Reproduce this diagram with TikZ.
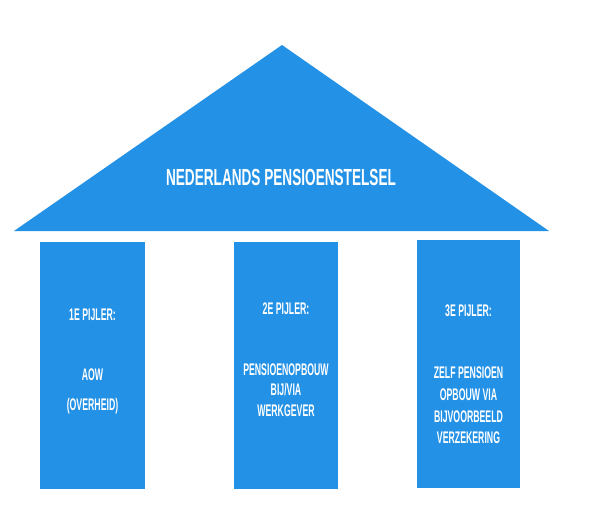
\documentclass[tikz,border=0pt]{standalone}
\usepackage{fontspec}
\newfontfamily\titlefont[FakeStretch=0.584]{Liberation Sans Bold}
\newfontfamily\pillarfont[FakeStretch=0.52]{Liberation Sans Bold}
\definecolor{roofblue}{RGB}{35,145,230}
\tikzset{
  pillarbox/.style={fill=roofblue, draw=none},
  titletext/.style={text=white, inner sep=0pt, anchor=base, font=\titlefont\fontsize{23.3}{26}\selectfont},
  pillartext/.style={text=white, inner sep=0pt, anchor=base, font=\pillarfont\fontsize{16.8}{20}\selectfont},
}
\begin{document}
\begin{tikzpicture}[x=1pt,y=-1pt]
\useasboundingbox (0,0) rectangle (605,531);
% roof
\coordinate (roofL) at (14,231);
\coordinate (roofT) at (282,45);
\coordinate (roofR) at (549,231);
\fill[roofblue] (roofL) -- (roofT) -- (roofR) -- cycle;
\node[titletext] (title) at (281,185) {NEDERLANDS PENSIOENSTELSEL};
% pillars
\fill[pillarbox] (40,242) rectangle (145,489) coordinate (p1corner);
\fill[pillarbox] (234,242) rectangle (338,489) coordinate (p2corner);
\fill[pillarbox] (417,240) rectangle (520,488) coordinate (p3corner);
% pillar 1
\node[pillartext] (p1h) at (92.5,320) {1E PIJLER:};
\node[pillartext] (p1a) at (92.5,380) {AOW};
\node[pillartext] (p1b) at (92.5,410) {(OVERHEID)};
% pillar 2
\node[pillartext] (p2h) at (286,314) {2E PIJLER:};
\node[pillartext] (p2a) at (286,375) {PENSIOENOPBOUW};
\node[pillartext] (p2b) at (286,395.5) {BIJ/VIA};
\node[pillartext] (p2c) at (286,416) {WERKGEVER};
% pillar 3
\node[pillartext] (p3h) at (468.5,316) {3E PIJLER:};
\node[pillartext] (p3a) at (468.5,378) {ZELF PENSIOEN};
\node[pillartext] (p3b) at (468.5,400) {OPBOUW VIA};
\node[pillartext] (p3c) at (468.5,422) {BIJVOORBEELD};
\node[pillartext] (p3d) at (468.5,443) {VERZEKERING};
\end{tikzpicture}
\end{document}
